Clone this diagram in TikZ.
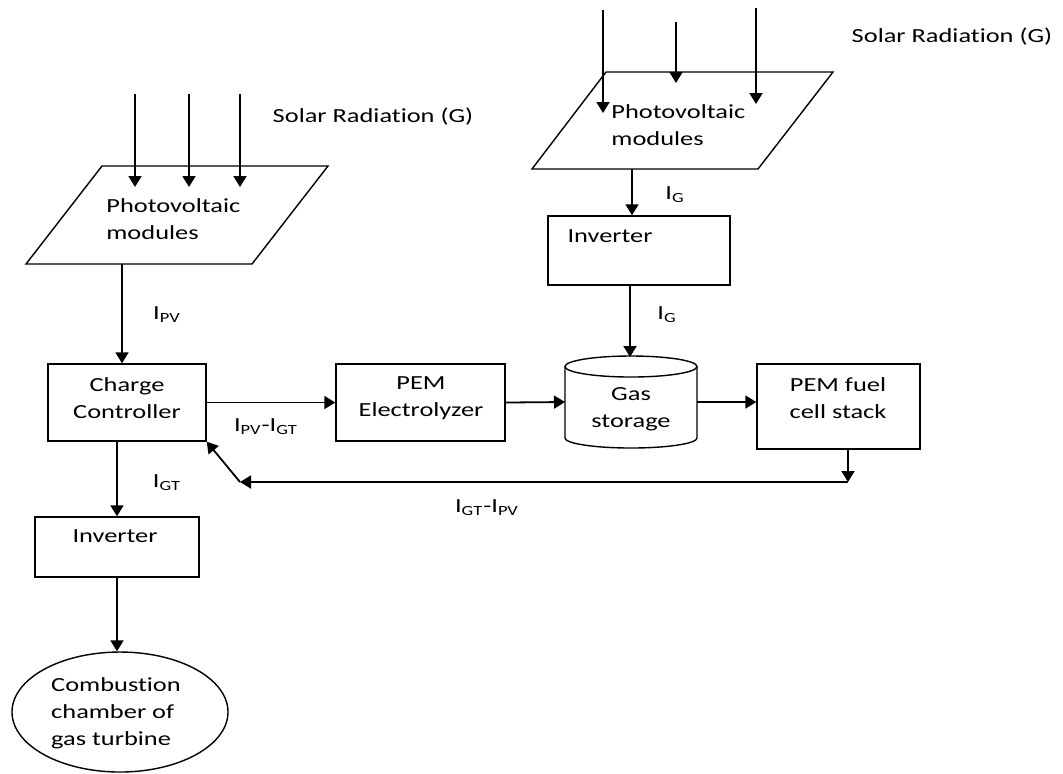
\documentclass[tikz,border=0pt]{standalone}
\usepackage{fontspec}
\setmainfont[FakeStretch=1.32,Ligatures={NoCommon}]{Carlito}
\usetikzlibrary{arrows.meta,shapes.geometric}
\begin{document}
\begin{tikzpicture}[x=0.5pt,y=-0.5pt,
  shp/.style={draw,line width=0.7pt},
  box/.style={shp,rectangle,inner sep=0pt},
  txt/.style={font=\fontsize{10}{13.5}\selectfont,align=center,inner sep=0pt},
  ltxt/.style={txt,align=left},
  conn/.style={line width=0.9pt,-{Triangle[length=5.5pt,width=6.5pt]}}
]
\useasboundingbox (0,0) rectangle (1063,773);

% left photovoltaic modules
\draw[shp] (102,166) -- (328,166) -- (252,264) -- (26,264) -- cycle;
\node[ltxt,anchor=west] (pv1) at (106,219.5) {Photovoltaic\\modules};
\coordinate (pv1b) at (122,264);
\node[txt] (sr1) at (373,117) {Solar Radiation (G)};
\coordinate (r1a) at (135,94);  \coordinate (r1b) at (135,187);
\coordinate (r2a) at (189,94);  \coordinate (r2b) at (189,187);
\coordinate (r3a) at (240,94);  \coordinate (r3b) at (240,187);

% right photovoltaic modules
\draw[shp] (606,72) -- (833,72) -- (758,169) -- (532,169) -- cycle;
\node[ltxt,anchor=west] (pv2) at (611,125) {Photovoltaic\\modules};
\coordinate (pv2b) at (632,169);
\node[txt] (sr2) at (952,37) {Solar Radiation (G)};
\coordinate (s1a) at (603,10);  \coordinate (s1b) at (603,113);
\coordinate (s2a) at (676,22);  \coordinate (s2b) at (676,83);
\coordinate (s3a) at (756,8);   \coordinate (s3b) at (756,104);

% boxes
\node[box,minimum width=79pt,minimum height=38.5pt] (cc) at (127,402.5) {};
\node[txt] (cct) at (127,398) {Charge\\Controller};
\node[box,minimum width=84.5pt,minimum height=38.5pt] (el) at (420.5,402.5) {};
\node[txt] (elt) at (421,398) {PEM\\Electrolyzer};
\node[box,minimum width=81.5pt,minimum height=42.5pt] (fc) at (838.5,406.5) {};
\node[txt] (fct) at (838,398.5) {PEM fuel\\cell stack};
\node[box,minimum width=91pt,minimum height=34.5pt] (inv1) at (639,250.5) {};
\node[txt] (inv1t) at (610,236) {Inverter};
\node[box,minimum width=82pt,minimum height=30pt] (inv2) at (117,547) {};
\node[txt] (inv2t) at (115,536) {Inverter};

% gas storage cylinder
\draw[shp] (631,366.5) ellipse [x radius=33pt, y radius=5.25pt];
\draw[shp] (565,366.5) -- (565,438) arc[start angle=180, end angle=360, x radius=33pt, y radius=5pt] -- (697,366.5);
\node[txt] (gs) at (631,409) {Gas\\storage};
\coordinate (gsl) at (565,402);
\coordinate (gsr) at (697,402);
\coordinate (gst) at (630,357);

% combustion chamber
\node[shp,ellipse,minimum width=108pt,minimum height=60pt,inner sep=0pt] (cmb) at (120,712) {};
\node[ltxt] (cmbt) at (116,713) {Combustion\\chamber of\\gas turbine};

% feedback path
\coordinate (fb1) at (848,482);
\coordinate (fb2) at (240,482);

% connectors
\draw[conn] (r1a) -- (r1b);
\draw[conn] (r2a) -- (r2b);
\draw[conn] (r3a) -- (r3b);
\draw[conn] (s1a) -- (s1b);
\draw[conn] (s2a) -- (s2b);
\draw[conn] (s3a) -- (s3b);
\draw[conn] (pv1b) -- (pv1b |- cc.north);
\draw[conn] (cc.east) -- (el.west);
\draw[conn] (el.east) -- (gsl);
\draw[conn] (gsr) -- (fc.west |- gsr);
\draw[conn] (cc.south -| inv2.north) -- (inv2.north);
\draw[conn] (inv2.south) -- (inv2.south |- cmb.north);
\draw[conn] (pv2b) -- (pv2b |- inv1.north);
\draw[conn] (gst |- inv1.south) -- (gst);
\draw[conn] (fc.south -| fb1) -- (fb1);
\draw[conn] (fb1) -- (fb2);
\draw[conn] (fb2) -- (cc.south east);

% labels
\node[txt] (l1) at (167,315) {I\textsubscript{PV}};
\node[txt] (l2) at (675,195) {I\textsubscript{G}};
\node[txt] (l3) at (667,315) {I\textsubscript{G}};
\node[txt] (l4) at (266,427) {I\textsubscript{PV}-I\textsubscript{GT}};
\node[txt] (l5) at (167,483) {I\textsubscript{GT}};
\node[txt] (l6) at (487,508) {I\textsubscript{GT}-I\textsubscript{PV}};
\end{tikzpicture}
\end{document}
